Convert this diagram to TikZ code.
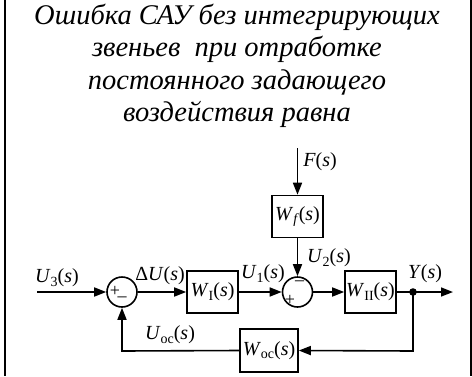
\documentclass[tikz,border=0pt]{standalone}
\usepackage{fontspec}
\setmainfont{Liberation Serif}
\usetikzlibrary{arrows.meta,positioning,calc}
\newcommand\lsub[1]{\raisebox{-0.35ex}{\fontsize{14}{14}\selectfont #1}}
\newcommand\vi[1]{\textit{#1}}
\tikzset{
  blk/.style={draw,line width=1.6pt,minimum width=51pt,minimum height=42pt,inner sep=0pt,font=\fontsize{20}{21}\selectfont},
  sumc/.style={draw,circle,line width=1.6pt,minimum size=30pt,inner sep=0pt},
  lbl/.style={font=\fontsize{20}{21}\selectfont,inner sep=0pt},
  sgn/.style={font=\fontsize{18}{18}\selectfont,inner sep=0pt},
  ttl/.style={font=\fontsize{28.5}{32}\selectfont\itshape,anchor=base,inner sep=0pt},
  conn/.style={line width=1.6pt},
  arr/.style={line width=1.6pt,-{Triangle[length=12pt,width=9pt]}},
}
\begin{document}
\begin{tikzpicture}[x=1pt,y=-1pt]
\useasboundingbox (0,0) rectangle (472,376);
\draw[line width=2pt] (4.5,0) -- (4.5,376);
\draw[line width=2pt] (470.5,0) -- (470.5,376);
\node[ttl] (t1) at (237,24) {Ошибка САУ без интегрирующих};
\node[ttl] (t2) at (237,56.5) {звеньев\ \ при отработке};
\node[ttl] (t3) at (237,89) {постоянного задающего};
\node[ttl] (t4) at (237,121.5) {воздействия равна};
% blocks
\node[sumc] (s1) at (122,292) {};
\node[sumc] (s2) at (297.5,292) {};
\node[blk] (w1) at (212.5,292) {\vi{W}\lsub{I}(\vi{s})};
\node[blk] (wf) at (297.5,216.5) {\vi{W}\lsub{\vi{f}}(\vi{s})};
\node[blk] (w2) at (370.5,292) {\vi{W}\lsub{II}(\vi{s})};
\node[blk,minimum width=58pt,minimum height=43pt] (woc) at (269,350.5) {\vi{W}\lsub{oc}(\vi{s})};
% signs
\node[sgn] (p1) at (115,291) {+};
\node[sgn] (m1) at (122,297) {\_};
\node[sgn] (p2) at (290,300) {+};
\node[sgn] (m2) at (299.5,283) {--};
% coordinates
\coordinate (in) at (37,292);
\coordinate (fin) at (297.5,148);
\coordinate (j) at (413,292);
\coordinate (out) at (453,292);
\coordinate (jd) at (413,351);
\coordinate (fl) at (122,351);
% connectors
\draw[arr] (in) -- (s1.west);
\draw[arr] (s1.east) -- (w1.west);
\draw[arr] (w1.east) -- (s2.west);
\draw[arr] (fin) -- (wf.north);
\draw[arr] (wf.south) -- (s2.north);
\draw[arr] (s2.east) -- (w2.west);
\draw[conn] (w2.east) -- (j);
\draw[arr] (j) -- (out);
\draw[arr] (j) -- (jd) -- (woc.east);
\draw[arr] (woc.west) -- (fl) -- (s1.south);
\fill (j) circle (3.8pt);
% labels
\node[lbl] (lu3) at (57,278) {\vi{U}\lsub{3}(\vi{s})};
\node[lbl] (ldu) at (160,276) {Δ\vi{U}(\vi{s})};
\node[lbl] (lu1) at (263,274) {\vi{U}\lsub{1}(\vi{s})};
\node[lbl] (lu2) at (329,258) {\vi{U}\lsub{2}(\vi{s})};
\node[lbl] (lf) at (320,162) {\vi{F}(\vi{s})};
\node[lbl] (ly) at (425,274) {\vi{Y}(\vi{s})};
\node[lbl] (loc) at (170,335) {\vi{U}\lsub{oc}(\vi{s})};
\end{tikzpicture}
\end{document}
